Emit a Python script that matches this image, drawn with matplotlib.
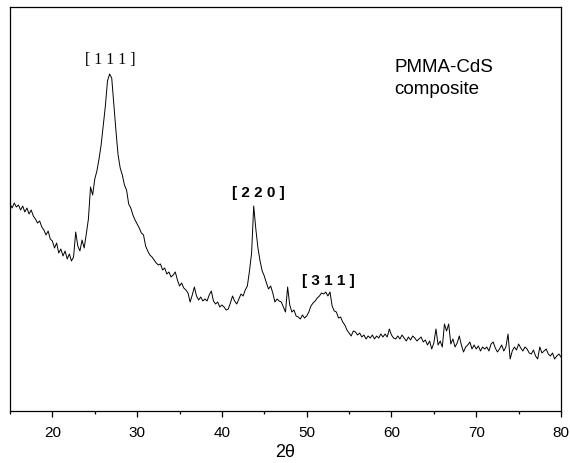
import numpy as np
import matplotlib
matplotlib.use("Agg")
import matplotlib.pyplot as plt
from matplotlib.ticker import MultipleLocator

#2theta grid, 0.25 deg step from 15 to 80
two_theta = np.arange(15, 80.01, 0.25)

#intensity (arb. units), 4 values per degree
intensity = [
    207, 203, 208, 204,   # 15
    206, 201, 205, 199,   # 16
    203, 197, 201, 195,   # 17
    192, 188, 190, 184,   # 18
    181, 176, 180, 172,   # 19
    170, 163, 168, 158,   # 20
    162, 155, 160, 152,   # 21
    157, 150, 154, 179,   # 22
    165, 160, 171, 163,   # 23
    177, 192, 224, 216,   # 24
    232, 240, 252, 266,   # 25
    285, 305, 330, 337,   # 26
    333, 306, 280, 256,   # 27
    243, 236, 226, 221,   # 28
    207, 203, 196, 191,   # 29
    187, 183, 178, 176,   # 30
    165, 160, 156, 154,   # 31
    151, 148, 146, 147,   # 32
    141, 143, 137, 139,   # 33
    134, 136, 139, 131,   # 34
    125, 128, 123, 121,   # 35
    118, 109, 116, 124,   # 36
    115, 111, 114, 110,   # 37
    112, 110, 116, 120,   # 38
    110, 107, 109, 104,   # 39
    106, 104, 101, 102,   # 40
    108, 115, 110, 107,   # 41
    112, 117, 115, 121,   # 42
    125, 140, 158, 205,   # 43
    182, 163, 150, 140,   # 44
    135, 128, 122, 125,   # 45
    118, 109, 112, 110,   # 46
    109, 104, 99, 124,    # 47
    106, 99, 101, 95,     # 48
    94, 92, 96, 93,       # 49
    95, 99, 105, 108,     # 50
    110, 113, 115, 118,   # 51
    117, 119, 115, 119,   # 52
    105, 100, 99, 93,     # 53
    94, 89, 86, 81,       # 54
    78, 75, 80, 79,       # 55
    76, 78, 74, 76,       # 56
    72, 75, 73, 76,       # 57
    72, 75, 73, 77,       # 58
    74, 77, 74, 82,       # 59
    76, 73, 72, 75,       # 60
    72, 76, 73, 70,       # 61
    74, 71, 75, 73,       # 62
    70, 72, 74, 69,       # 63
    71, 66, 70, 62,       # 64
    68, 82, 66, 70,       # 65
    64, 87, 80, 87,       # 66
    67, 72, 64, 68,       # 67
    75, 66, 59, 64,       # 68
    66, 69, 62, 66,       # 69
    62, 65, 60, 64,       # 70
    62, 64, 60, 67,       # 71
    69, 63, 59, 62,       # 72
    66, 60, 64, 77,       # 73
    52, 60, 64, 61,       # 74
    67, 63, 60, 64,       # 75
    62, 58, 57, 61,       # 76
    55, 52, 64, 58,       # 77
    60, 62, 57, 55,       # 78
    58, 52, 55, 57,       # 79
    54,                   # 80
]

#peak labels: text, 2theta, intensity
peak_labels = ["[ 1 1 1 ]", "[ 2 2 0 ]", "[ 3 1 1 ]"]
peak_x = [26.8, 44.25, 52.6]
peak_y = [352, 219, 131]

plt.rcParams['font.family'] = ['Liberation Sans', 'DejaVu Sans']

fig = plt.figure(figsize=(5.7, 4.64), dpi=100)
ax = fig.add_axes([10/570, 52/464, 551/570, 404/464])

ax.plot(two_theta, intensity, color="black", linewidth=0.7)

ax.set_xlim(15, 80)
ax.set_ylim(0, 404)
ax.set_yticks([])
ax.xaxis.set_major_locator(MultipleLocator(10))
ax.xaxis.set_minor_locator(MultipleLocator(5))
ax.tick_params(axis="x", which="major", direction="out", length=4.3, width=0.9, labelsize=11, pad=6)
ax.tick_params(axis="x", which="minor", direction="out", length=2.4, width=0.9)
for s in ax.spines.values():
    s.set_linewidth(0.9)

ax.set_xlabel("2θ", fontsize=13, labelpad=3)

#first label is serif, the other two bold sans
ax.text(peak_x[0], peak_y[0], peak_labels[0], ha="center", va="center",
        fontsize=11.5, family="Liberation Serif")
for i in [1, 2]:
    ax.text(peak_x[i], peak_y[i], peak_labels[i], ha="center", va="center",
            fontsize=11, fontweight="bold")

ax.text(60.3, 344, "PMMA-CdS", ha="left", va="center", fontsize=13.5)
ax.text(60.3, 322, "composite", ha="left", va="center", fontsize=13.5)

fig.savefig("out.png", dpi=100)
